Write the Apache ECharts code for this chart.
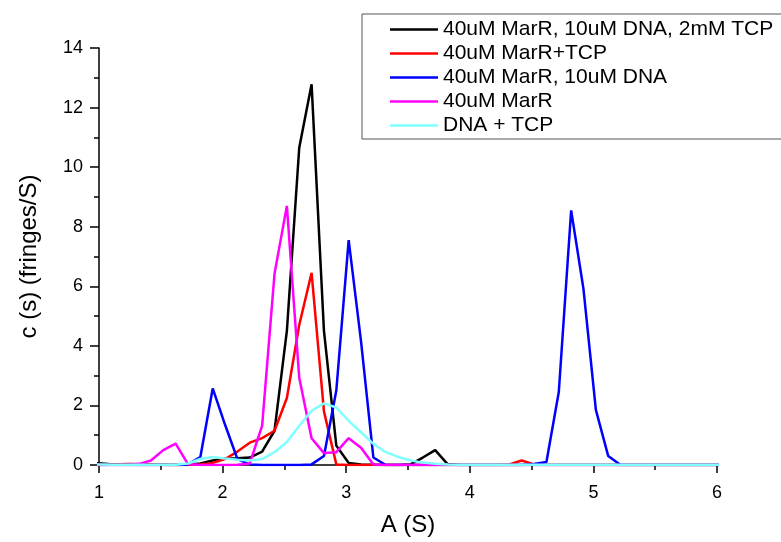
<!DOCTYPE html>
<html>
<head>
<meta charset="utf-8">
<script src="https://cdn.jsdelivr.net/npm/echarts@6/dist/echarts.min.js"></script>
<style>
  html, body { margin: 0; padding: 0; background: #fff; }
  #chart { width: 781px; height: 542px; }
</style>
</head>
<body>
<div id="chart"></div>
<script>
// sedimentation coefficient grid (S)
var sValues = [0.92, 1.02, 1.12, 1.22, 1.32, 1.42, 1.52, 1.62, 1.72, 1.82,
    1.92, 2.02, 2.12, 2.22, 2.32, 2.42, 2.52, 2.62, 2.72, 2.82,
    2.92, 3.02, 3.12, 3.22, 3.32, 3.42, 3.52, 3.62, 3.72, 3.82,
    3.92, 4.02, 4.12, 4.22, 4.32, 4.42, 4.52, 4.62, 4.72, 4.82,
    4.92, 5.02, 5.12, 5.22, 5.32, 5.42, 5.52, 5.62, 5.72, 5.82,
    5.92, 6.02];

// c(s) per sample
var marRDnaTcp = [0.08, 0.05, 0.02, 0.01, 0, 0, 0, 0, 0.01, 0.05,
    0.15, 0.22, 0.23, 0.25, 0.45, 1.15, 4.5, 10.65, 12.78, 4.5,
    0.65, 0.07, 0.02, 0.01, 0, 0, 0.02, 0.25, 0.5, 0.03,
    0, 0, 0, 0, 0, 0, 0, 0, 0, 0,
    0, 0, 0, 0, 0, 0, 0, 0, 0, 0,
    0, 0];
var marRTcp = [0, 0, 0.02, 0.03, 0.03, 0.02, 0.01, 0, 0, 0.02,
    0.07, 0.2, 0.45, 0.75, 0.9, 1.15, 2.25, 4.7, 6.45, 1.8,
    0.02, 0, 0, 0, 0, 0, 0, 0, 0, 0,
    0, 0, 0, 0, 0.02, 0.15, 0.02, 0, 0, 0,
    0, 0, 0, 0, 0, 0, 0, 0, 0, 0,
    0, 0];
var marRDna = [0, 0, 0, 0, 0, 0, 0, 0, 0.02, 0.27,
    2.57, 1.35, 0.2, 0.02, 0, 0, 0, 0, 0.02, 0.3,
    2.5, 7.55, 4.15, 0.25, 0, 0, 0, 0, 0, 0,
    0, 0, 0, 0, 0, 0, 0.03, 0.1, 2.45, 8.55,
    5.9, 1.85, 0.3, 0, 0, 0, 0, 0, 0, 0,
    0, 0];
var marROnly = [0, 0, 0, 0, 0.03, 0.15, 0.5, 0.72, 0.03, 0,
    0, 0, 0.01, 0.05, 1.32, 6.42, 8.7, 2.93, 0.9, 0.4,
    0.43, 0.9, 0.58, 0.02, 0, 0, 0, 0, 0, 0,
    0, 0, 0, 0, 0, 0, 0, 0, 0, 0,
    0, 0, 0, 0, 0, 0, 0, 0, 0, 0,
    0, 0];
var dnaTcp = [0.02, 0.02, 0.01, 0.01, 0.01, 0.01, 0.01, 0.01, 0.05, 0.2,
    0.27, 0.22, 0.18, 0.15, 0.2, 0.43, 0.77, 1.32, 1.82, 2.07,
    1.93, 1.48, 1.1, 0.71, 0.43, 0.27, 0.15, 0.08, 0.04, 0.02,
    0.01, 0.01, 0.01, 0.01, 0.01, 0.01, 0.01, 0.01, 0.01, 0.01,
    0.01, 0.01, 0.01, 0.01, 0.01, 0.01, 0.01, 0.01, 0.01, 0.01,
    0.01, 0.01];

var seriesNames = ['40uM MarR, 10uM DNA, 2mM TCP', '40uM MarR+TCP', '40uM MarR, 10uM DNA', '40uM MarR', 'DNA + TCP'];
var seriesColors = ['#000000', '#ff0000', '#0000ff', '#ff00ff', '#80ffff'];
var seriesValues = [marRDnaTcp, marRTcp, marRDna, marROnly, dnaTcp];

var font = 'Liberation Sans, Arial, sans-serif';

var myChart = echarts.init(document.getElementById('chart'));

var option = {
    backgroundColor: '#fff',
    animation: false,
    grid: {
        left: 99,
        right: 64,
        top: 48,
        bottom: 74
    },
    legend: {
        orient: 'vertical',
        left: 362,
        top: 14,
        padding: [5, 80, 3, 28],
        itemGap: 3,
        itemWidth: 48,
        itemHeight: 2.5,
        icon: 'rect',
        borderColor: '#555',
        borderWidth: 1,
        data: seriesNames,
        textStyle: {
            fontFamily: font,
            fontSize: 21,
            lineHeight: 20,
            color: '#000'
        }
    },
    xAxis: {
        type: 'value',
        min: 1,
        max: 6,
        interval: 1,
        name: 'A (S)',
        nameLocation: 'middle',
        nameGap: 48,
        nameTextStyle: { fontFamily: font, fontSize: 24, color: '#000' },
        axisLine: { lineStyle: { color: '#000', width: 1.5 } },
        axisTick: { inside: false, length: 8, lineStyle: { color: '#000', width: 1.5 } },
        minorTick: { show: true, splitNumber: 2, length: 5, lineStyle: { color: '#000', width: 1.5 } },
        splitLine: { show: false },
        axisLabel: { fontFamily: font, fontSize: 18, color: '#000', margin: 19 }
    },
    yAxis: {
        type: 'value',
        min: 0,
        max: 14,
        interval: 2,
        name: 'c (s) (fringes/S)',
        nameLocation: 'middle',
        nameGap: 58,
        nameTextStyle: { fontFamily: font, fontSize: 24, color: '#000' },
        axisLine: { show: true, lineStyle: { color: '#000', width: 1.5 } },
        axisTick: { show: true, length: 9, lineStyle: { color: '#000', width: 1.5 } },
        minorTick: { show: true, splitNumber: 2, length: 5, lineStyle: { color: '#000', width: 1.5 } },
        splitLine: { show: false },
        axisLabel: { fontFamily: font, fontSize: 18, color: '#000', margin: 16 }
    },
    series: seriesNames.map(function (name, i) {
        return {
            name: name,
            type: 'line',
            symbol: 'none',
            color: seriesColors[i],
            lineStyle: { width: 2.5, color: seriesColors[i] },
            data: sValues.map(function (s, j) { return [s, seriesValues[i][j]]; })
        };
    })
};

myChart.setOption(option);
</script>
</body>
</html>
